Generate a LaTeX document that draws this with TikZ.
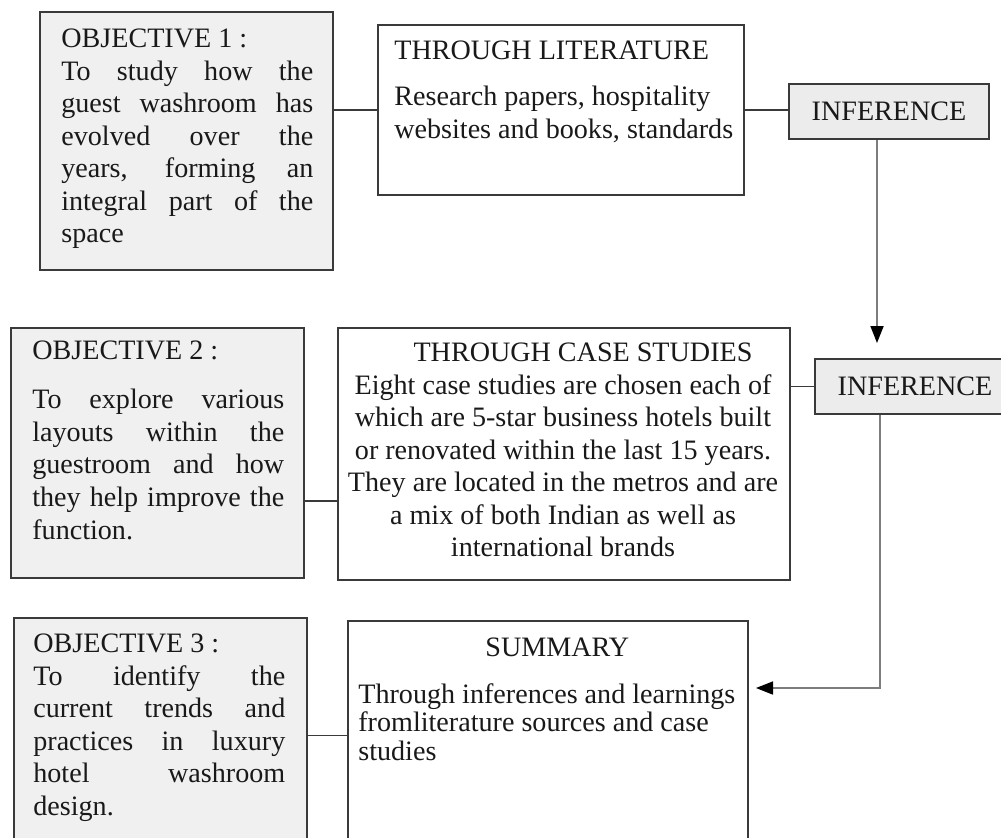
\documentclass[tikz,border=0pt]{standalone}
\usepackage{fontspec}
\setmainfont{Liberation Serif}
\usepackage{tikz}
\usetikzlibrary{arrows.meta}
\definecolor{boxgray}{RGB}{240, 240, 240}
\definecolor{infgray}{RGB}{236, 236, 236}
\definecolor{edgegray}{RGB}{58, 58, 58}
\definecolor{linegray}{RGB}{125, 125, 125}
\newcommand{\jline}[1]{\makebox[5.04cm][s]{#1}}

\begin{document}
\begin{tikzpicture}[
    x=0.02cm, y=-0.02cm,
    objbox/.style={rectangle, draw=edgegray, fill=boxgray, line width=1.2pt, anchor=north west, inner sep=0pt, minimum width=5.86cm},
    srcbox/.style={rectangle, draw=edgegray, fill=white, line width=1.2pt, anchor=north west, inner sep=0pt},
    infbox/.style={rectangle, draw=edgegray, fill=infgray, line width=1.2pt, anchor=north west, inner sep=0pt, minimum width=4cm, minimum height=1.1cm, text=black!90, font=\fontsize{16pt}{18.5pt}\selectfont},
    txt/.style={anchor=north west, inner sep=0pt, align=left, text=black!90, font=\fontsize{16pt}{18.5pt}\selectfont},
    conn/.style={draw=edgegray, line width=1pt},
    flow/.style={draw=linegray, line width=1pt, -{Triangle[length=3.4mm, width=2.6mm, color=black]}}
]
    \useasboundingbox (0,0) rectangle (1001,838);
    \clip (0,0) rectangle (1001,838);

    % boxes
    \node[objbox, minimum height=5.16cm] (obj1) at (39,11) {};
    \node[srcbox, minimum width=7.32cm, minimum height=3.4cm] (lit) at (377,24) {};
    \node[infbox] (inf1) at (788,83) {INFERENCE};
    \node[objbox, minimum height=5cm] (obj2) at (10,327) {};
    \node[srcbox, minimum width=9.04cm, minimum height=5.04cm] (case) at (337,327) {};
    \node[infbox] (inf2) at (814,358) {INFERENCE};
    \node[objbox, minimum height=4.7cm] (obj3) at (13,617) {};
    \node[srcbox, minimum width=8cm, minimum height=4.64cm] (summ) at (347,620) {};

    % texts
    \node[txt] (obj1t) at (61,29) {OBJECTIVE 1 :\\
        \jline{To study how the}\\
        \jline{guest washroom has}\\
        \jline{evolved over the}\\
        \jline{years, forming an}\\
        \jline{integral part of the}\\
        space};
    \node[txt] (litt) at (394,41) {THROUGH LITERATURE\\[7.7pt]
        Research papers, hospitality\\
        websites and books, standards};
    \node[txt] (obj2t) at (32,341) {OBJECTIVE 2 :\\[9.4pt]
        \jline{To explore various}\\
        \jline{layouts within the}\\
        \jline{guestroom and how}\\
        \jline{they help improve the}\\
        function.};
    \node[txt, anchor=north, align=center] (caset) at (563,343) {\hspace*{0.8cm}THROUGH CASE STUDIES\\
        Eight case studies are chosen each of\\
        which are 5-star business hotels built\\
        or renovated within the last 15 years.\\
        They are located in the metros and are\\
        a mix of both Indian as well as\\
        international brands};
    \node[txt] (obj3t) at (33,634) {OBJECTIVE 3 :\\
        \jline{To identify the}\\
        \jline{current trends and}\\
        \jline{practices in luxury}\\
        \jline{hotel washroom}\\
        design.};
    \node[txt, font=\fontsize{16pt}{16.5pt}\selectfont] (summt) at (358,638) {\makebox[7.6cm]{\hspace*{0.36cm}SUMMARY}\\[9.7pt]
        Through inferences and learnings\\
        fromliterature sources and case\\
        studies};

    % objective to source links
    \draw[conn] (obj1.east |- lit.west) -- (lit.west);
    \coordinate (o2link) at ([yshift=-0.96cm]obj2.east);
    \draw[conn] (o2link) -- (o2link -| case.west);
    \draw[conn] (obj3.east) -- (obj3.east -| summ.west);

    % source to inference links
    \draw[conn] (lit.east) -- (lit.east -| inf1.west);
    \draw[conn] (inf2.west -| case.east) -- (inf2.west);

    % inference flow
    \coordinate (tip1) at (877,343);
    \draw[flow] (inf1.south -| tip1) -- (tip1);
    \coordinate (bend) at (880,688);
    \coordinate (tip2) at (756,688);
    \draw[flow] (inf2.south -| bend) -- (bend) -- (tip2);
\end{tikzpicture}
\end{document}
